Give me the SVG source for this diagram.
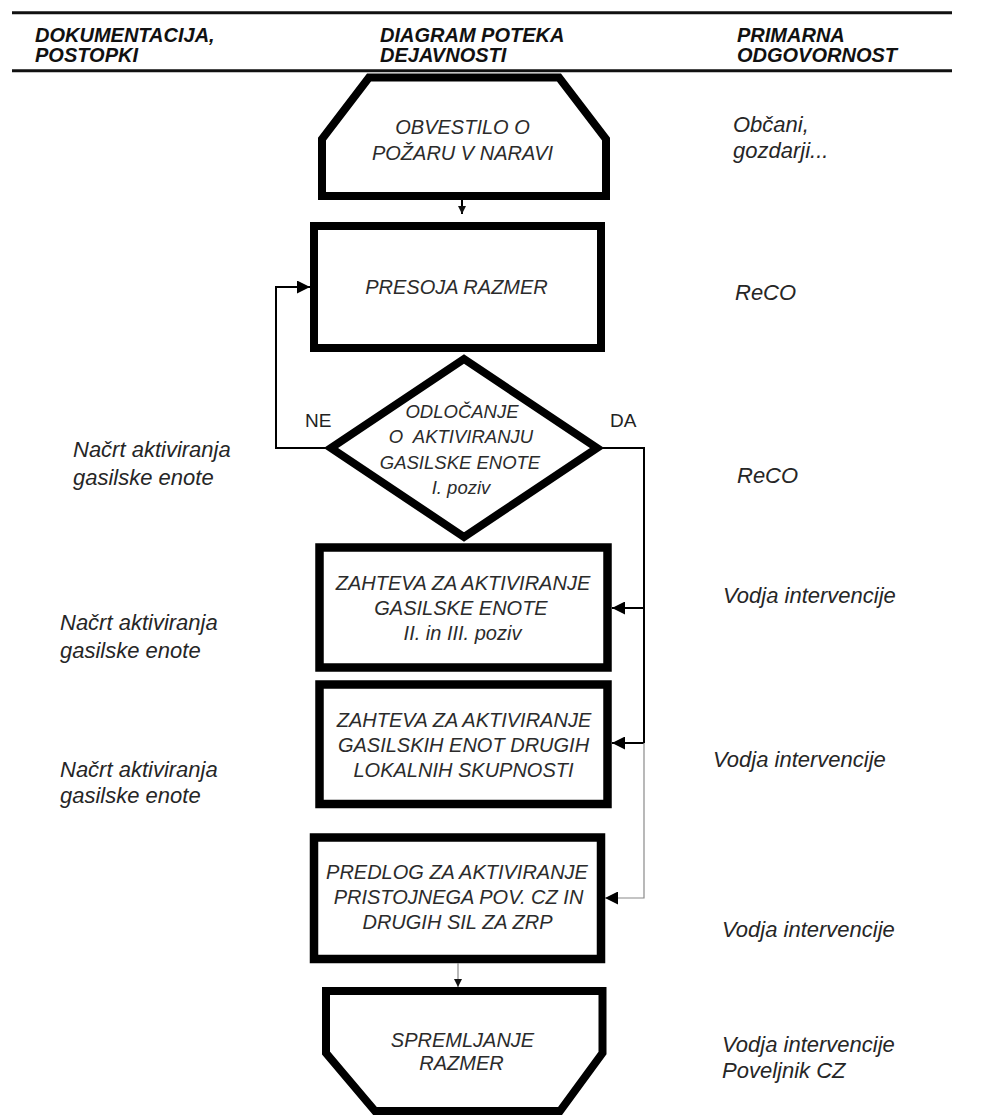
<svg xmlns="http://www.w3.org/2000/svg" width="983" height="1117" viewBox="0 0 983 1117">
<style>
.hd{font-family:"Liberation Sans",Arial,sans-serif;font-size:20px;font-weight:bold;font-style:italic;fill:#111}
.bx{font-family:"Liberation Sans",Arial,sans-serif;font-size:20px;font-style:italic;fill:#2b2b2b;text-anchor:middle}
.dm{font-family:"Liberation Sans",Arial,sans-serif;font-size:18.5px;font-style:italic;fill:#2b2b2b;text-anchor:middle}
.lb{font-family:"Liberation Sans",Arial,sans-serif;font-size:22px;font-style:italic;fill:#262626}
.yn{font-family:"Liberation Sans",Arial,sans-serif;font-size:19px;fill:#222}
.shape{fill:#fff;stroke:#000;stroke-width:8;stroke-linejoin:miter}
.shape9{fill:#fff;stroke:#000;stroke-width:8.5;stroke-linejoin:miter}
.rule{stroke:#111;stroke-width:3}
.cn{fill:none;stroke:#000;stroke-width:2}
.cnl{fill:none;stroke:#8a8a8a;stroke-width:1.2}
</style>
<defs>
<marker id="ah" viewBox="0 0 10 10" refX="10" refY="5" markerWidth="13" markerHeight="13" markerUnits="userSpaceOnUse" orient="auto"><path d="M0,0 L10,5 L0,10 z" fill="#000"/></marker>
<marker id="as" viewBox="0 0 10 10" refX="10" refY="5" markerWidth="8" markerHeight="9" markerUnits="userSpaceOnUse" orient="auto"><path d="M0,0 L10,5 L0,10 z" fill="#111"/></marker>
</defs>
<rect x="0" y="0" width="983" height="1117" fill="#fff"/>

<g id="header">
<line class="rule" x1="12" y1="12.7" x2="952" y2="12.7"/>
<line class="rule" x1="12" y1="70.7" x2="952" y2="70.7"/>
<text class="hd" x="35" y="42">DOKUMENTACIJA,</text>
<text class="hd" x="35" y="62">POSTOPKI</text>
<text class="hd" x="380" y="42">DIAGRAM POTEKA</text>
<text class="hd" x="380" y="62">DEJAVNOSTI</text>
<text class="hd" x="737" y="42">PRIMARNA</text>
<text class="hd" x="737" y="62">ODGOVORNOST</text>
</g>

<g id="n1-obvestilo">
<polygon class="shape" points="369,77.5 559,77.5 606,139 606,196 322,196 322,139"/>
<text class="bx" x="462.5" y="134">OBVESTILO O</text>
<text class="bx" x="462.5" y="160">POŽARU V NARAVI</text>
</g>

<g id="n2-presoja">
<rect class="shape" x="314" y="226" width="287" height="122"/>
<text class="bx" x="456.5" y="293.5">PRESOJA RAZMER</text>
</g>

<g id="n3-odlocanje">
<polygon class="shape" points="464,359 597,448 464,537 331,448"/>
<text class="dm" x="462" y="418">ODLOČANJE</text>
<text class="dm" x="461" y="443" xml:space="preserve">O  AKTIVIRANJU</text>
<text class="dm" x="460" y="468.5">GASILSKE ENOTE</text>
<text class="dm" x="461" y="494">I. poziv</text>
</g>

<g id="n4-zahteva1">
<rect class="shape9" x="319.5" y="547.5" width="288" height="120"/>
<text class="bx" x="463" y="590">ZAHTEVA ZA AKTIVIRANJE</text>
<text class="bx" x="461" y="615">GASILSKE ENOTE</text>
<text class="bx" x="462.5" y="640">II. in III. poziv</text>
</g>

<g id="n5-zahteva2">
<rect class="shape9" x="319.5" y="684.5" width="288" height="119.5"/>
<text class="bx" x="464" y="727">ZAHTEVA ZA AKTIVIRANJE</text>
<text class="bx" x="463.5" y="752">GASILSKIH ENOT DRUGIH</text>
<text class="bx" x="463.5" y="777">LOKALNIH SKUPNOSTI</text>
</g>

<g id="n6-predlog">
<rect class="shape9" x="314" y="837.5" width="287" height="121.5"/>
<text class="bx" x="457" y="879">PREDLOG ZA AKTIVIRANJE</text>
<text class="bx" x="458.5" y="904">PRISTOJNEGA POV. CZ IN</text>
<text class="bx" x="457.5" y="929">DRUGIH SIL ZA ZRP</text>
</g>

<g id="n7-spremljanje">
<polygon class="shape" points="326,991 602.5,991 602.5,1053 560,1111 375,1111 326,1053"/>
<text class="bx" x="462.5" y="1047">SPREMLJANJE</text>
<text class="bx" x="461.5" y="1070">RAZMER</text>
</g>

<g id="col-left">
<text class="lb" x="73" y="457">Načrt aktiviranja</text>
<text class="lb" x="73" y="485">gasilske enote</text>
<text class="lb" x="60" y="630">Načrt aktiviranja</text>
<text class="lb" x="60" y="658">gasilske enote</text>
<text class="lb" x="60" y="777">Načrt aktiviranja</text>
<text class="lb" x="60" y="803">gasilske enote</text>
</g>

<g id="col-right">
<text class="lb" x="733" y="132">Občani,</text>
<text class="lb" x="733" y="158">gozdarji...</text>
<text class="lb" x="735" y="300">ReCO</text>
<text class="lb" x="737" y="483">ReCO</text>
<text class="lb" x="723" y="603">Vodja intervencije</text>
<text class="lb" x="713" y="767">Vodja intervencije</text>
<text class="lb" x="722" y="937">Vodja intervencije</text>
<text class="lb" x="722" y="1052">Vodja intervencije</text>
<text class="lb" x="722" y="1078">Poveljnik CZ</text>
</g>

<g id="connectors">
<line class="cn" x1="462" y1="200" x2="462" y2="214" stroke-width="1.5" marker-end="url(#as)"/>
<polyline class="cn" points="325,448 276,448 276,287 310,287" marker-end="url(#ah)"/>
<polyline class="cn" points="603,448 644,448 644,743"/>
<line class="cn" x1="644" y1="608" x2="612" y2="608" marker-end="url(#ah)"/>
<line class="cn" x1="644" y1="743" x2="612" y2="743" marker-end="url(#ah)"/>
<polyline class="cnl" points="644,743 644,898 605,898" marker-end="url(#ah)"/>
<line class="cnl" x1="458" y1="963" x2="458" y2="987" marker-end="url(#as)"/>
<text class="yn" x="305" y="427">NE</text>
<text class="yn" x="610" y="427">DA</text>
</g>
</svg>
